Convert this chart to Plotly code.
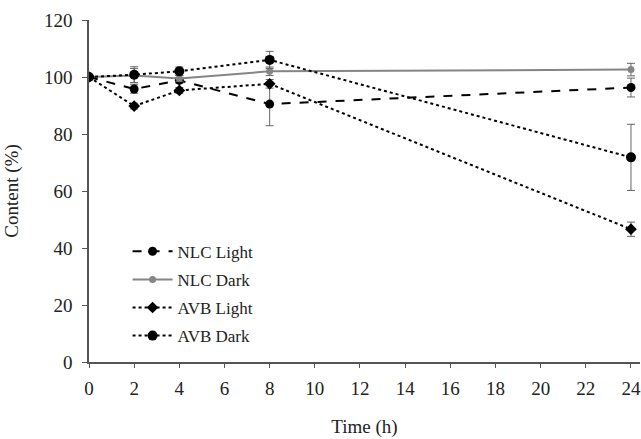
import plotly.graph_objects as go

time_h = [0, 2, 4, 8, 24]
nlc_light = [100, 95.8, 98.8, 90.5, 96.3]
nlc_light_err = [0, 1.5, 1.0, 7.6, 3.3]
nlc_dark = [100, 100.5, 99.5, 102.0, 102.6]
nlc_dark_err = [0, 2.5, 1.0, 1.5, 2.2]
avb_light = [100, 89.8, 95.3, 97.6, 46.6]
avb_light_err = [0, 1.0, 1.0, 1.5, 2.5]
avb_dark = [100, 100.8, 102.0, 106.0, 71.8]
avb_dark_err = [0, 2.8, 1.5, 3.0, 11.6]

FONT = "Liberation Serif, Times New Roman, serif"

series = [
    ("NLC Light", nlc_light, nlc_light_err, "black", "dash", "circle", 9),
    ("NLC Dark", nlc_dark, nlc_dark_err, "#858585", "solid", "circle", 7),
    ("AVB Light", avb_light, avb_light_err, "black", "dot", "diamond", 9),
    ("AVB Dark", avb_dark, avb_dark_err, "black", "dot", "circle", 10),
]

fig = go.Figure()
for i, (name, y, err, col, dash, sym, size) in enumerate(series):
    fig.add_trace(go.Scatter(
        x=time_h, y=y, name=name, mode="lines+markers",
        legendgroup=f"g{i}",
        line=dict(color=col, dash=dash, width=2),
        marker=dict(color=col, symbol=sym, size=size),
        error_y=dict(type="data", array=err, visible=True,
                     color="#666666", thickness=1, width=4),
    ))

fig.update_layout(
    width=641, height=439,
    margin=dict(l=89, r=1, t=20, b=77),
    paper_bgcolor="white", plot_bgcolor="white",
    font=dict(family=FONT, size=19, color="#222222"),
    showlegend=True,
    legend=dict(
        x=0.07, y=0.375, xanchor="left", yanchor="top",
        bgcolor="rgba(0,0,0,0)",
        font=dict(family=FONT, size=17, color="#222222"),
        tracegroupgap=3, traceorder="grouped",
        itemwidth=40,
    ),
)
fig.update_xaxes(
    range=[0, 24.4], tickvals=list(range(0, 25, 2)),
    showgrid=False, zeroline=False,
    showline=True, linecolor="#555555", linewidth=1.5,
    ticks="outside", ticklen=4, tickcolor="#555555",
    tickfont=dict(size=19), ticklabelstandoff=4,
    title=dict(text="Time (h)", font=dict(size=19), standoff=22),
    automargin=False,
)
fig.update_yaxes(
    range=[0, 120], tickvals=list(range(0, 121, 20)),
    showgrid=False, zeroline=False,
    showline=True, linecolor="#555555", linewidth=1.5,
    ticks="outside", ticklen=5, tickcolor="#555555",
    tickfont=dict(size=19), ticklabelstandoff=6,
    title=dict(text="Content (%)", font=dict(size=19), standoff=20),
    automargin=False,
)

fig.write_html("out.html")
